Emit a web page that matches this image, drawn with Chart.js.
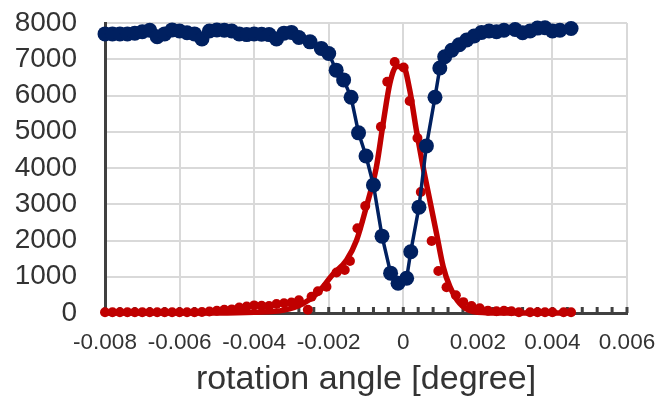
<!DOCTYPE html>
<html>
<head>
<meta charset="utf-8">
<script src="https://cdn.jsdelivr.net/npm/chart.js@4"></script>
<style>
  body { margin: 0; background: #fff; }
  #wrap { width: 660px; height: 401px; }
</style>
</head>
<body>
<div id="wrap"><canvas id="myChart" width="660" height="401"></canvas></div>
<script>
// blue series (measured points)
const xBlue = [-0.0080, -0.0078, -0.0076, -0.0074, -0.0072, -0.0070, -0.0068, -0.0066, -0.0064, -0.0062,
    -0.0060, -0.0058, -0.0056, -0.0054, -0.0052, -0.0050, -0.0048, -0.0046, -0.0044, -0.0042,
    -0.0040, -0.0038, -0.0036, -0.0034, -0.0032, -0.0030, -0.0028, -0.0025, -0.0022, -0.0020,
    -0.0018, -0.0016, -0.0014, -0.0012, -0.0010, -0.0008, -0.00057, -0.00034, -0.00014, 0.00009,
    0.0002, 0.00042, 0.00062, 0.00085, 0.00098, 0.00111, 0.0013, 0.0015, 0.0017, 0.0019,
    0.0021, 0.0023, 0.0025, 0.0027, 0.0030, 0.0032, 0.0034, 0.0036, 0.0038, 0.0040,
    0.0042, 0.0045];
const yBlue = [7700, 7700, 7700, 7700, 7720, 7760, 7800, 7620, 7700, 7810,
    7780, 7730, 7700, 7560, 7780, 7810, 7800, 7780, 7700, 7680,
    7700, 7690, 7680, 7560, 7720, 7740, 7600, 7480, 7300, 7160,
    6700, 6430, 5950, 4970, 4330, 3530, 2120, 1100, 820, 960,
    1690, 2920, 4610, 5950, 6760, 7070, 7250, 7400, 7530, 7640,
    7740, 7780, 7760, 7800, 7820, 7730, 7780, 7860, 7870, 7780,
    7800, 7850];

// red series (measured points)
const xRed = [-0.0080, -0.0078, -0.0076, -0.0074, -0.0072, -0.0070, -0.0068, -0.0066, -0.0064, -0.0062,
    -0.0060, -0.0058, -0.0056, -0.0054, -0.0052, -0.0050, -0.0048, -0.0046, -0.0044, -0.0042,
    -0.0040, -0.0038, -0.0036, -0.0034, -0.0032, -0.0030, -0.0028, -0.00256, -0.00246, -0.00229,
    -0.00206, -0.00179, -0.00157, -0.00143, -0.00123, -0.00102, -0.0006, -0.00043, -0.00023, 0.00001,
    0.00017, 0.00038, 0.00047, 0.00076, 0.00094, 0.00116, 0.00141, 0.00161, 0.00183, 0.00205,
    0.00227, 0.0025, 0.0027, 0.0029, 0.0031, 0.0034, 0.0036, 0.0038, 0.0040, 0.0043, 0.0045];
const yRed = [20, 20, 20, 20, 20, 20, 20, 20, 20, 20,
    20, 20, 20, 30, 40, 60, 90, 100, 150, 180,
    210, 200, 190, 250, 270, 290, 350, 90, 450, 600,
    726, 1117, 1186, 1434, 2337, 2952, 5139, 6381, 6924, 6772,
    5848, 4828, 3338, 1986, 1160, 710, 490, 300, 190, 130,
    65, 50, 60, 50, 20, 20, 20, 20, 20, 20, 20];

// red fitted curve
const xFit = [-0.0080, -0.0050, -0.0040, -0.0032, -0.0027, -0.0023, -0.0019, -0.00152, -0.00125, -0.00099,
    -0.00072, -0.00054, -0.00036, -0.00018, 0.0, 0.00017, 0.00035, 0.00053, 0.00071, 0.00089,
    0.00107, 0.00125, 0.00151, 0.00187, 0.0025, 0.0045];
const yFit = [0, 0, 20, 80, 250, 550, 1050, 1462, 2014, 2933,
    4036, 5233, 6336, 6800, 6800, 6166, 5048, 4036, 3117, 2200,
    1277, 726, 268, 40, 0, 0];

// axis ranges
const xMin = -0.008, xMax = 0.006, xStep = 0.002, xMinorStep = 0.0004;
const yMin = 0, yMax = 8000, yStep = 1000;

function toPoints(xs, ys) {
    return xs.map((x, i) => ({ x: x, y: ys[i] }));
}

// small inward tick marks along the x axis line
const minorTicks = {
    id: 'minorTicks',
    beforeDatasetsDraw(chart) {
        const xs = chart.scales.x;
        const y0 = chart.scales.y.getPixelForValue(0);
        const ctx = chart.ctx;
        ctx.save();
        ctx.strokeStyle = '#404040';
        ctx.lineWidth = 3;
        ctx.beginPath();
        for (let v = xMin; v <= xMax + 1e-9; v += xMinorStep) {
            const px = xs.getPixelForValue(v);
            ctx.moveTo(px, y0);
            ctx.lineTo(px, y0 - 6);
        }
        ctx.stroke();
        ctx.restore();
    }
};

const textColor = '#333333';

const data = {
    datasets: [{
        label: 'blue',
        data: toPoints(xBlue, yBlue),
        borderColor: '#002060',
        backgroundColor: '#002060',
        borderWidth: 3.5,
        pointRadius: 7.5,
        pointBorderWidth: 0,
        tension: 0,
        clip: false
    }, {
        label: 'red',
        data: toPoints(xRed, yRed),
        borderColor: '#C00000',
        backgroundColor: '#C00000',
        showLine: false,
        pointRadius: 5,
        pointBorderWidth: 0,
        clip: false
    }, {
        label: 'fit',
        data: toPoints(xFit, yFit),
        borderColor: '#C00000',
        borderWidth: 5.5,
        pointRadius: 0,
        cubicInterpolationMode: 'monotone',
        clip: false
    }]
};

// tick label offsets are done with invisible tick marks, so tick padding stays 0
const config = {
    type: 'scatter',
    data: data,
    options: {
        responsive: false,
        animation: false,
        showLine: true,
        layout: { autoPadding: false, padding: { top: 23, right: 33, left: 0, bottom: 0 } },
        plugins: {
            legend: { display: false },
            tooltip: { enabled: false }
        },
        scales: {
            x: {
                type: 'linear',
                min: xMin,
                max: xMax,
                afterFit: s => { s.height = 88; },
                ticks: {
                    stepSize: xStep,
                    autoSkip: false,
                    maxRotation: 0,
                    padding: 0,
                    color: textColor,
                    font: { family: 'Liberation Sans, Arial, sans-serif', size: 22.5 },
                    callback: v => String(parseFloat(v.toFixed(3)))
                },
                grid: { color: '#d9d9d9', lineWidth: 2, drawTicks: true, tickLength: 16, tickColor: 'rgba(0,0,0,0)' },
                border: { color: '#404040', width: 3 },
                title: {
                    display: true,
                    text: 'rotation angle [degree]',
                    color: textColor,
                    padding: { top: 0, bottom: 1 },
                    font: { family: 'Liberation Sans, Arial, sans-serif', size: 34 }
                }
            },
            y: {
                min: yMin,
                max: yMax,
                afterFit: s => { s.width = 105; },
                ticks: {
                    stepSize: yStep,
                    autoSkip: false,
                    padding: 0,
                    color: textColor,
                    font: { family: 'Liberation Sans, Arial, sans-serif', size: 28 },
                    callback: v => String(v)
                },
                grid: { color: '#d9d9d9', lineWidth: 2, drawTicks: true, tickLength: 28, tickColor: 'rgba(0,0,0,0)' },
                border: { color: '#404040', width: 3 }
            }
        }
    },
    plugins: [minorTicks]
};

const myChart = new Chart(
    document.getElementById('myChart'),
    config
);
</script>
</body>
</html>
